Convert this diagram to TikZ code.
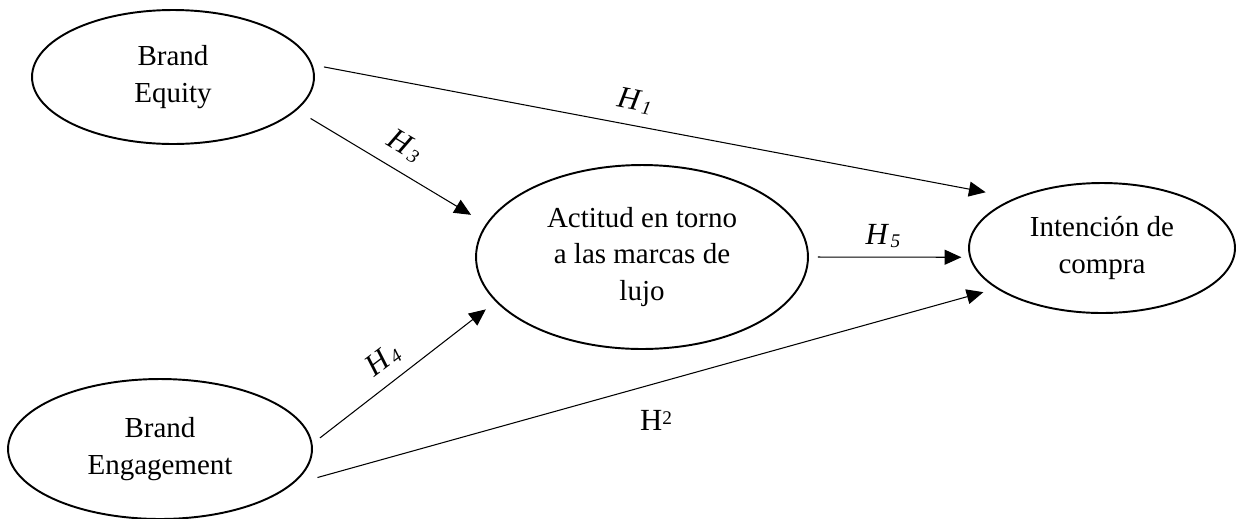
\documentclass[tikz,border=0pt]{standalone}
\usepackage{fontspec}
\setmainfont{Liberation Serif}
\usetikzlibrary{shapes.geometric,arrows.meta}

% hypothesis labels
\newcommand{\Hsub}[1]{\textit{H}\kern0.8pt\raisebox{-1.5pt}{\fontsize{11}{11}\selectfont\itshape #1}}

\begin{document}
\begin{tikzpicture}[x=0.02cm, y=-0.02cm,
  constr/.style={ellipse, draw, line width=1.1pt, inner sep=0pt, align=center,
    font=\fontsize{16.5}{20.8}\selectfont},
  hyp/.style={-{Triangle[length=9.5pt,width=8.5pt]}, line width=0.6pt},
  hlab/.style={inner sep=0pt, font=\fontsize{17.5}{20}\selectfont}]
\useasboundingbox (0,0) rectangle (1236,518);

\node [constr, minimum width=5.64cm, minimum height=2.68cm] (equity) at (173,77) {Brand\\Equity};
\node [constr, minimum width=6.08cm, minimum height=2.80cm] (engage) at (160,449) {Brand\\Engagement};
\node [constr, minimum width=6.64cm, minimum height=3.68cm] (actitud) at (642,257) {Actitud en torno\\a las marcas de\\lujo};
\node [constr, minimum width=5.32cm, minimum height=2.60cm] (intencion) at (1102,248) {Intención de\\compra};

\draw [hyp, shorten <=0.23cm, shorten >=0.60cm] (equity.5) -- (intencion.150);
\draw [hyp, shorten <=0.52cm, shorten >=0.27cm] (engage.-15) -- (intencion.-159);
\draw [hyp, shorten <=0.32cm, shorten >=0.35cm] (equity.-15) -- (actitud.168);
\draw [hyp, shorten <=0.19cm, shorten >=0.25cm] (engage.2) -- (actitud.-163);
\draw [hyp, shorten <=0.18cm, shorten >=0.16cm] (actitud.0) -- (intencion.184);

\node [hlab, rotate=-11] (h1) at (635,101) {\Hsub{1}};
\node [hlab] (h2) at (656,420) {H\raisebox{3pt}{\fontsize{11}{11}\selectfont 2}};
\node [hlab, rotate=-31] (h3) at (405,146) {\Hsub{3}};
\node [hlab, rotate=37] (h4) at (383,360) {\Hsub{4}};
\node [hlab] (h5) at (883,236) {\Hsub{5}};
\end{tikzpicture}
\end{document}
